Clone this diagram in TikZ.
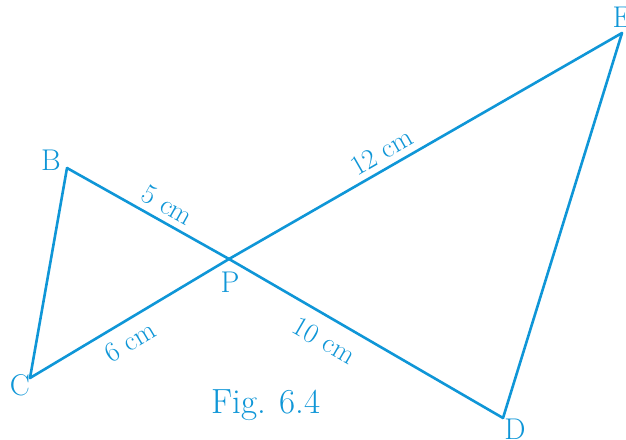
\documentclass[tikz,border=0pt]{standalone}
\usepackage{amsmath, amssymb}
\usepackage{tikz}
\usepackage{xcolor}
\definecolor{figblue}{RGB}{15,150,215}

\tikzset{
  seg/.style={figblue, line width=2.6pt, line cap=round, line join=round},
  vlabel/.style={text=figblue, font=\fontsize{30}{34}\selectfont, inner sep=0pt},
  lenlabel/.style={text=figblue, font=\fontsize{28}{32}\selectfont, sloped, inner sep=6pt}
}

\begin{document}
\begin{tikzpicture}[x=1pt, y=-1pt]
  \useasboundingbox (0,0) rectangle (626,439);
  \coordinate (B) at (67,168);
  \coordinate (P) at (229,259);
  \coordinate (C) at (30,378);
  \coordinate (D) at (503,418);
  \coordinate (E) at (622,33);
  \draw[seg] (C) -- (B);
  \draw[seg] (B) -- node[lenlabel, pos=0.57, above] (lbp) {5 cm} (P);
  \draw[seg] (P) -- node[lenlabel, pos=0.41, above] (lpe) {12 cm} (E);
  \draw[seg] (E) -- (D);
  \draw[seg] (P) -- node[lenlabel, pos=0.39, below, inner sep=12pt] (lpd) {10 cm} (D);
  \draw[seg] (C) -- node[lenlabel, pos=0.45, below, inner sep=9pt] (lcp) {6 cm} (P);
  \node[vlabel] (nB) at (51,160) {B};
  \node[vlabel] (nC) at (20,385) {C};
  \node[vlabel] (nP) at (230,282) {P};
  \node[vlabel] (nD) at (515,429) {D};
  \node[vlabel] (nE) at (622,17) {E};
  \node[text=figblue, font=\fontsize{35}{40}\selectfont] (fig) at (266,405) {Fig. 6.4};
\end{tikzpicture}
\end{document}
